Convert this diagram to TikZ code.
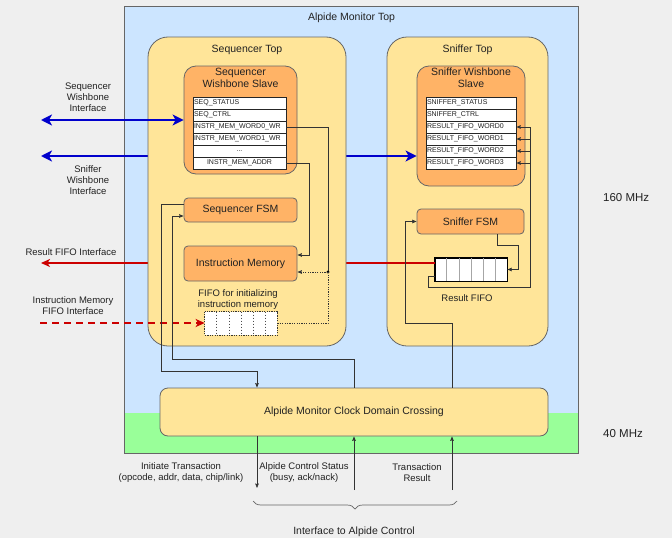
\documentclass[tikz,border=0pt]{standalone}
\usepackage{fontspec}
\setmainfont{Liberation Sans}
\usetikzlibrary{arrows.meta,decorations.pathreplacing,calc}

\definecolor{pagebg}{HTML}{EFEFEF}
\definecolor{clk160}{HTML}{CCE5FF}
\definecolor{clk40}{HTML}{99FF99}
\definecolor{blockyellow}{HTML}{FFE599}
\definecolor{blockorange}{HTML}{FFB366}
\definecolor{edgegray}{HTML}{666666}
\definecolor{busblue}{HTML}{0000CC}
\definecolor{fifored}{HTML}{CC0000}
\definecolor{wirec}{HTML}{333333}
\definecolor{txt}{HTML}{222222}

\tikzset{
  title/.style={text=txt, font=\fontsize{10.5}{12}\selectfont, align=center, inner sep=0pt},
  side/.style={text=txt, font=\fontsize{9.5}{11}\selectfont, align=center, inner sep=0pt},
  container/.style={draw=edgegray, line width=0.8pt, fill=blockyellow, rounded corners=20pt},
  slave/.style={draw=edgegray, line width=0.8pt, fill=blockorange, rounded corners=12pt},
  block/.style={draw=edgegray, line width=0.8pt, fill=blockorange, rounded corners=4pt,
    text=txt, font=\fontsize{10.5}{12}\selectfont},
  reg/.style={draw=black!85, fill=white, line width=0.6pt, minimum height=12pt,
    inner ysep=0pt, inner xsep=1pt, text=txt, font=\fontsize{7}{8}\selectfont},
  regl/.style={reg, text width=#1, align=left},
  regc/.style={reg, text width=#1, align=center},
  wire/.style={draw=wirec, line width=0.7pt},
  tip/.style={-{Stealth[length=4.5pt,width=3.6pt,inset=0.6pt]}},
  bus/.style={draw=busblue, line width=2.5pt,
    {Stealth[length=11pt,width=11pt,inset=3pt]}-{Stealth[length=11pt,width=11pt,inset=3pt]}},
  fifocell/.style={draw=black, fill=white, line width=0.7pt, minimum width=72pt, minimum height=23pt, inner sep=0pt}
}

\begin{document}
\begin{tikzpicture}[x=1pt,y=-1pt]
\useasboundingbox (0,0) rectangle (672,538);
\fill[pagebg] (0,0) rectangle (672,538);

% ---- clock domains of the monitor top
\node[fill=clk160, minimum width=453pt, minimum height=446pt, inner sep=0pt] (amtop) at (351.5,230) {};
\fill[clk40] (125,413) rectangle (578,453);
\draw[edgegray, line width=0.8pt] (amtop.north west) rectangle (amtop.south east);
\node[title] (amtopLabel) at (351.5,18) {Alpide Monitor Top};

% ---- sniffer top and its contents
\node[container, minimum width=161pt, minimum height=309pt] (sntop) at (467.5,191.5) {};
\node[title] (sntopLabel) at (467.5,50) {Sniffer Top};
\node[slave, minimum width=108pt, minimum height=120pt] (snslave) at (471,126) {};
\node[title] (snslaveLabel) at (471,78) {Sniffer Wishbone\\Slave};
\node[regl=88pt] (snr1) at (471,103) {SNIFFER\_STATUS};
\node[regl=88pt] (snr2) at (471,115) {SNIFFER\_CTRL};
\node[regl=88pt] (snr3) at (471,127) {RESULT\_FIFO\_WORD0};
\node[regl=88pt] (snr4) at (471,139) {RESULT\_FIFO\_WORD1};
\node[regl=88pt] (snr5) at (471,151) {RESULT\_FIFO\_WORD2};
\node[regl=88pt] (snr6) at (471,163) {RESULT\_FIFO\_WORD3};

\node[block, minimum width=107pt, minimum height=25pt] (snfsm) at (470.5,221.5) {Sniffer FSM};

\node[fifocell] (rfifo) at (471,269.5) {};
\foreach \i in {1,...,5}
  \draw[black!35, line width=0.7pt] ($(rfifo.north west)!\i/6!(rfifo.north east)$) -- ($(rfifo.south west)!\i/6!(rfifo.south east)$);
\draw[black, line width=0.7pt] (rfifo.north west) rectangle (rfifo.south east);
\node[side] (rfifoLabel) at (467,298) {Result FIFO};

% ---- interfaces to the outside
\coordinate (seqIf) at (41,120);
\coordinate (snIf) at (41,156);
\coordinate (resIf) at (41,263);
\coordinate (imIf) at (40,323);

\draw[bus] (snIf) -- (snIf -| snslave.west);
\draw[fifored, line width=1.5pt, -{Stealth[length=9pt,width=8pt,inset=2.5pt]}] (resIf -| rfifo.west) -- (resIf);

% ---- sequencer top and its contents
\node[container, minimum width=198pt, minimum height=309pt] (seqtop) at (247,191.5) {};
\node[title] (seqtopLabel) at (247,50) {Sequencer Top};
\node[slave, minimum width=113pt, minimum height=108pt] (seqslave) at (240.5,120) {};
\node[title] (seqslaveLabel) at (240.5,78) {Sequencer\\Wishbone Slave};
\node[regl=91pt] (seqr1) at (239.5,103) {SEQ\_STATUS};
\node[regl=91pt] (seqr2) at (239.5,115) {SEQ\_CTRL};
\node[regl=91pt] (seqr3) at (239.5,127) {INSTR\_MEM\_WORD0\_WR};
\node[regl=91pt] (seqr4) at (239.5,139) {INSTR\_MEM\_WORD1\_WR};
\node[regc=91pt] (seqr5) at (239.5,151) {...};
\node[regc=91pt] (seqr6) at (239.5,163) {INSTR\_MEM\_ADDR};

\node[block, minimum width=113pt, minimum height=24pt] (seqfsm) at (240.5,210) {Sequencer FSM};
\node[block, minimum width=113pt, minimum height=35pt] (imem) at (240.5,263.5) {Instruction Memory};

\node[fifocell, draw=none] (ififo) at (241,323.5) {};
\foreach \i in {1,...,5}
  \draw[black!70, line width=0.6pt, dash pattern=on 1.5pt off 1.5pt] ($(ififo.north west)!\i/6!(ififo.north east)$) -- ($(ififo.south west)!\i/6!(ififo.south east)$);
\draw[black!80, line width=0.7pt, dash pattern=on 1.2pt off 1.2pt] (ififo.north west) rectangle (ififo.south east);
\node[side] (ififoLabel) at (238,299.5) {FIFO for initializing\\instruction memory};

\draw[bus] (seqIf) -- (seqslave.west);
\draw[fifored, line width=1.8pt, dash pattern=on 7pt off 5pt, -{Stealth[length=9pt,width=8pt,inset=2.5pt]}] (imIf) -- (imIf -| ififo.west);

% ---- clock domain crossing
\node[fill=blockyellow, draw=edgegray, line width=0.8pt, rounded corners=8pt,
  minimum width=388pt, minimum height=48pt, title] (cdc) at (354,412) {Alpide Monitor Clock Domain Crossing};

% ---- sequencer wiring
\coordinate (imJoin) at (328,272);
\draw[wire] (seqr3.east) -| (imJoin);
\fill[black] (imJoin) circle (1.6pt);
\draw[wire, dash pattern=on 1.2pt off 1.2pt, tip] (imJoin) -- (imJoin -| imem.east);
\draw[wire, dash pattern=on 1.2pt off 1.2pt] (ififo.east) -| (imJoin);
\draw[wire, tip] (seqr6.east) -- ++(23,0) |- ([yshift=8.5pt]imem.east);

\coordinate (bA) at (257,488);
\coordinate (bB) at (354,490);
\coordinate (bC) at (452,490);

\draw[wire, tip] ([yshift=6pt]seqfsm.west) -| (161,371) -| (cdc.north -| bA);
\draw[wire, tip] (cdc.north -| bB) |- (172,359) |- ([yshift=-6pt]seqfsm.west);

% ---- sniffer wiring
\draw[wire, tip] (cdc.north -| bC) |- (405,323) |- (snfsm.west);
\draw[wire, tip] ([xshift=26.5pt]snfsm.south) |- (518,245) |- (rfifo.east);
\coordinate (regBus) at (530,127);
\draw[wire] ([yshift=-6.5pt]rfifo.west) -| (428,287) -| (regBus);
\foreach \r in {3,4,5,6}
  \draw[wire, tip] (regBus |- snr\r.east) -- (snr\r.east);

% ---- interface to alpide control
\draw[wire, tip] (cdc.south -| bA) -- (bA);
\draw[wire, tip] (bB) -- (cdc.south -| bB);
\draw[wire, tip] (bC) -- (cdc.south -| bC);

\draw[black!60, line width=0.7pt, decorate, decoration={brace, mirror, amplitude=8pt}] (253,501) -- (457,501);

% ---- labels
\node[side] (seqIfLabel) at (88,97) {Sequencer\\Wishbone\\Interface};
\node[side] (snIfLabel) at (88,180) {Sniffer\\Wishbone\\Interface};
\node[side] (resIfLabel) at (71,252) {Result FIFO Interface};
\node[side] (imIfLabel) at (73,305.5) {Instruction Memory\\FIFO Interface};

\node[side] (initLabel) at (181,472.5) {Initiate Transaction\\(opcode, addr, data, chip/link)};
\node[side] (statusLabel) at (304,472.5) {Alpide Control Status\\(busy, ack/nack)};
\node[side] (resultLabel) at (417,472.5) {Transaction\\Result};
\node[title] (ifLabel) at (354,532) {Interface to Alpide Control};

\node[side, font=\fontsize{11.5}{13}\selectfont, anchor=west] (clkHi) at (603,198) {160 MHz};
\node[side, font=\fontsize{11.5}{13}\selectfont, anchor=west] (clkLo) at (603,434) {40 MHz};
\end{tikzpicture}
\end{document}
